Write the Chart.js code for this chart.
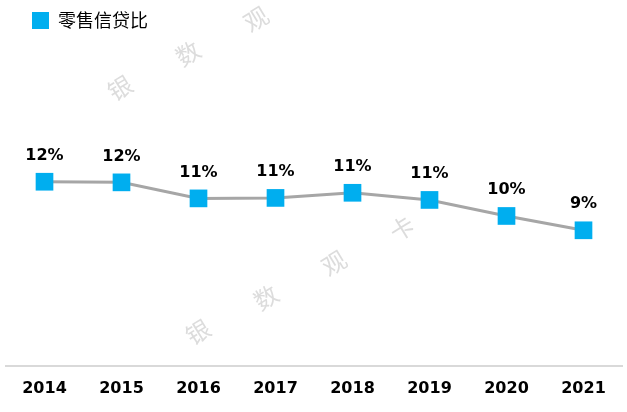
<!DOCTYPE html>
<html>
<head>
<meta charset="utf-8">
<script src="https://cdn.jsdelivr.net/npm/chart.js@4"></script>
<style>
  html, body { margin: 0; padding: 0; background: #ffffff; }
  #wrap { width: 627px; height: 412px; position: relative; }
</style>
</head>
<body>
<div id="wrap"><canvas id="c"></canvas></div>
<script>
// ---- data ----
const years = ['2014', '2015', '2016', '2017', '2018', '2019', '2020', '2021'];
const retailLoanRatio = [11.86, 11.82, 10.79, 10.82, 11.15, 10.69, 9.66, 8.74];
const valueLabels = ['12%', '12%', '11%', '11%', '11%', '11%', '10%', '9%'];
const seriesName = '零售信贷比';
const watermarkChars = ['银', '数', '观', '卡'];

const BLUE = '#00AEEF';
const GREY = '#A6A6A6';

const valueLabelPlugin = {
  id: 'valueLabels',
  afterDatasetsDraw(chart) {
    const ctx = chart.ctx;
    const meta = chart.getDatasetMeta(0);
    ctx.save();
    ctx.font = 'bold 16px "DejaVu Sans"';
    ctx.fillStyle = '#000000';
    ctx.textAlign = 'center';
    ctx.textBaseline = 'middle';
    meta.data.forEach((pt, i) => {
      ctx.fillText(valueLabels[i], pt.x, pt.y - 26);
    });
    ctx.restore();
  }
};

const watermarkPlugin = {
  id: 'watermark',
  beforeDraw(chart) {
    const ctx = chart.ctx;
    ctx.save();
    ctx.font = '24px "Noto Sans CJK SC"';
    ctx.fillStyle = 'rgba(205,205,205,0.7)';
    ctx.textAlign = 'center';
    ctx.textBaseline = 'middle';
    const rows = [
      {x: 120, y: 88},
      {x: 198, y: 332}
    ];
    rows.forEach(r => {
      watermarkChars.forEach((ch, i) => {
        ctx.save();
        ctx.translate(r.x + i * 68, r.y - i * 34.5);
        ctx.rotate(-0.55);
        ctx.fillText(ch, 0, 0);
        ctx.restore();
      });
    });
    ctx.restore();
  }
};

new Chart(document.getElementById('c'), {
  type: 'line',
  data: {
    labels: years,
    datasets: [{
      label: seriesName,
      data: retailLoanRatio,
      borderColor: GREY,
      borderWidth: 3,
      backgroundColor: BLUE,
      pointStyle: 'rect',
      pointRadius: 12.5,
      pointHoverRadius: 12.5,
      pointBackgroundColor: BLUE,
      pointBorderColor: BLUE,
      pointBorderWidth: 0,
      tension: 0,
      fill: false,
      clip: false
    }]
  },
  options: {
    responsive: true,
    maintainAspectRatio: false,
    animation: false,
    layout: { autoPadding: false, padding: { top: -14.5, left: 6, right: 5, bottom: 0.5 } },
    plugins: {
      tooltip: { enabled: false },
      legend: {
        display: true,
        position: 'top',
        align: 'start',
        labels: {
          boxWidth: 17,
          boxHeight: 17,
          padding: 26,
          color: '#222222',
          font: { family: '"Noto Sans CJK SC"', size: 18 },
          generateLabels: () => [{
            text: seriesName,
            fillStyle: BLUE,
            strokeStyle: BLUE,
            lineWidth: 0,
            hidden: false,
            datasetIndex: 0
          }]
        }
      }
    },
    scales: {
      x: {
        offset: true,
        grid: { display: false, drawTicks: false },
        border: { display: true, color: '#D9D9D9', width: 2 },
        ticks: {
          padding: 13,
          color: '#000000',
          font: { family: '"DejaVu Sans"', size: 16, weight: 'bold' }
        }
      },
      y: {
        display: false,
        min: 0,
        max: 21
      }
    }
  },
  plugins: [watermarkPlugin, valueLabelPlugin]
});
</script>
</body>
</html>
